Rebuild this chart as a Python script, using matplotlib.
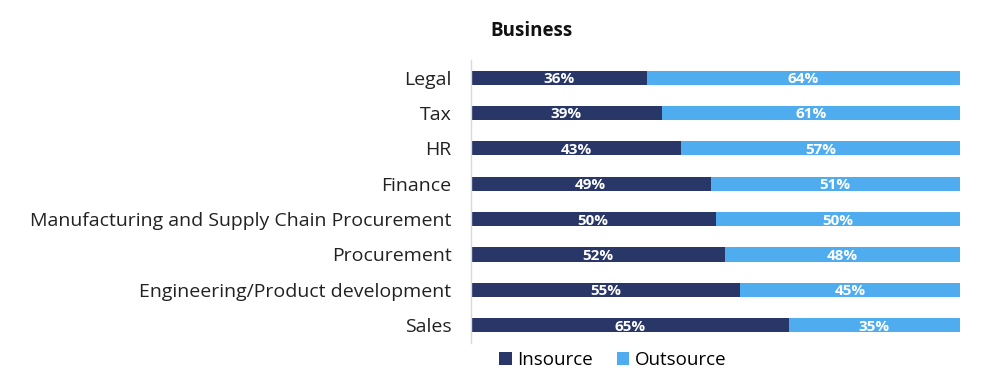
import matplotlib.pyplot as plt
import numpy as np

plt.rcParams['font.family'] = ['Open Sans', 'DejaVu Sans']

categories = ["Legal", "Tax", "HR", "Finance",
              "Manufacturing and Supply Chain Procurement", "Procurement",
              "Engineering/Product development", "Sales"]
insource = [36, 39, 43, 49, 50, 52, 55, 65]
outsource = [64, 61, 57, 51, 50, 48, 45, 35]

navy = "#283668"
light = "#4FADEF"

fig = plt.figure(figsize=(10, 3.84), dpi=100)
ax = fig.add_axes([0.471, 0.107, 0.489, 0.737])

y = np.arange(len(categories))
h = 0.4
ax.barh(y, insource, height=h, color=navy, label="Insource")
ax.barh(y, outsource, left=insource, height=h, color=light, label="Outsource")

for i in range(len(categories)):
    ax.text(insource[i] / 2, y[i], f"{insource[i]}%", ha="center",
            va="center_baseline", color="white", fontsize=11, fontweight="bold")
    ax.text(insource[i] + outsource[i] / 2, y[i], f"{outsource[i]}%", ha="center",
            va="center_baseline", color="white", fontsize=11, fontweight="bold")

ax.set_xlim(0, 100)
ax.set_ylim(len(categories) - 0.5, -0.5)
ax.set_yticks(y)
ax.set_yticklabels(categories, fontsize=14, color="#222222")
ax.tick_params(axis="y", length=0, pad=14)
for lab in ax.get_yticklabels():
    lab.set_verticalalignment("center_baseline")
ax.set_xticks([])
for s in ["top", "right", "bottom"]:
    ax.spines[s].set_visible(False)
ax.spines["left"].set_color("#d9d9d9")
ax.spines["left"].set_linewidth(1)

fig.text(0.532, 0.92, "Business", ha="center", va="center", fontsize=13.5,
         fontweight="bold", color="#111111")

ax.legend(loc="upper left", bbox_to_anchor=(0.035, 0.01), ncol=2, frameon=False,
          fontsize=13.5, handlelength=0.65, handleheight=0.65, handletextpad=0.3,
          columnspacing=1.3, borderaxespad=0.2)

fig.savefig("out.png", dpi=100)
